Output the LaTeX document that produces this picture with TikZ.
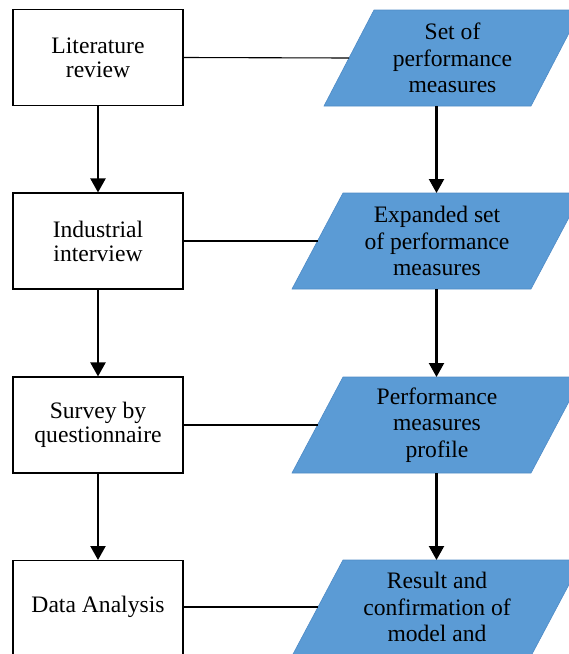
\documentclass[tikz,border=0pt]{standalone}
\usepackage{fontspec}
\setmainfont{Liberation Serif}
\usetikzlibrary{arrows.meta}
\definecolor{pblue}{HTML}{5B9BD5}
\definecolor{pedge}{HTML}{4F8BC6}
\begin{document}
\begin{tikzpicture}[x=1pt,y=-1pt,
  box/.style={draw,line width=1.1pt,minimum width=170pt,minimum height=96pt,inner sep=0pt,align=center,font=\fontsize{23.6}{24}\selectfont},
  boxtext/.style={inner sep=0pt,align=center,font=\fontsize{23.6}{24}\selectfont},
  ptext/.style={align=center,font=\fontsize{23.6}{26.7}\selectfont,inner sep=0pt},
  para/.style={fill=pblue,draw=pedge,line width=0.6pt},
  arr/.style={line width=2.2pt,-{Triangle[width=15pt,length=14pt]}},
  link/.style={line width=1.1pt}]
\useasboundingbox (0,0) rectangle (569,654);
\clip (0,0) rectangle (569,654);

% left column boxes
\node[box] (b1) at (98,57.5) {Literature\\review};
\node[box] (b2) at (98,241) {Industrial\\interview};
\node[box] (b3) at (98,425) {Survey by\\questionnaire};
\node[box,minimum height=120pt,anchor=north] (b4) at (98,560) {};
\node[boxtext] (b4t) at (98,607) {Data Analysis};

% parallelograms
\draw[para] (374,10) -- (581,10) -- (531,106) -- (324,106) -- cycle;
\draw[para] (343,193) -- (582,193) -- (531,289) -- (292,289) -- cycle;
\draw[para] (343,377) -- (582,377) -- (531,473) -- (292,473) -- cycle;
\draw[para] (343,560) -- (582,560) -- (531,656) -- (292,656) -- cycle;

\node[ptext] (p1) at (452.5,58) {Set of\\performance\\measures};
\node[ptext] (p2) at (437,241) {Expanded set\\of performance\\measures};
\node[ptext] (p3) at (437,425) {Performance\\measures\\profile};
\node[ptext] (p4) at (437,607) {Result and\\confirmation of\\model and};

% anchor points on parallelograms
\coordinate (l1) at (349,58);
\coordinate (l2) at (317.5,241);
\coordinate (l3) at (317.5,425);
\coordinate (l4) at (317.5,607);
\coordinate (s1) at (436.5,106);
\coordinate (n2) at (436.5,193);
\coordinate (s2) at (436.5,289);
\coordinate (n3) at (436.5,377);
\coordinate (s3) at (436.5,473);
\coordinate (n4) at (436.5,560);

% connectors
\draw[link] (b1.east) -- (l1);
\draw[link] (b2.east) -- (l2);
\draw[link] (b3.east) -- (l3);
\draw[link] (b4t -| b4.east) -- (l4);

\draw[arr] (b1.south) -- (b2.north);
\draw[arr] (b2.south) -- (b3.north);
\draw[arr] (b3.south) -- (b4.north);

\draw[arr] (s1) -- (n2);
\draw[arr] (s2) -- (n3);
\draw[arr] (s3) -- (n4);
\end{tikzpicture}
\end{document}
